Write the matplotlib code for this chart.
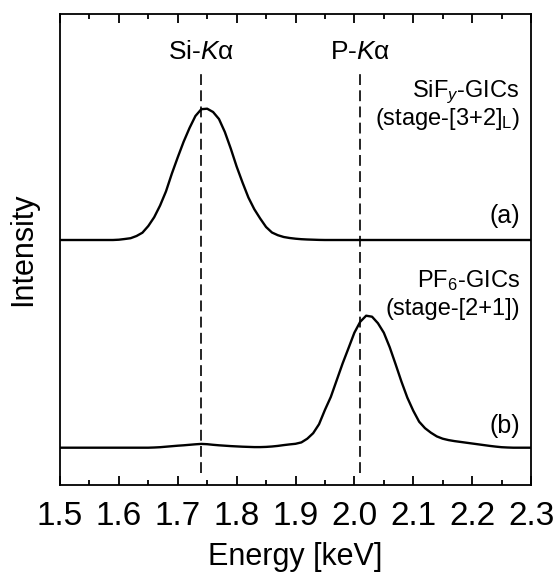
import numpy as np
import matplotlib
matplotlib.use("Agg")
import matplotlib.pyplot as plt
from matplotlib.ticker import MultipleLocator

plt.rcParams['font.family'] = ['Liberation Sans', 'DejaVu Sans']
plt.rcParams['mathtext.fontset'] = 'custom'
plt.rcParams['mathtext.rm'] = 'Liberation Sans'
plt.rcParams['mathtext.it'] = 'Liberation Sans:italic'

# Energy axis (keV)
energy = np.round(np.arange(1.50, 2.3001, 0.01), 2)

# (a) SiFy-GICs intensity (a.u., above baseline)
intensity_a = [
    0, 0, 0, 0, 0, 0, 0, 0, 0, 0,            # 1.50-1.59
    0.3, 1.0, 1.8, 4.0, 7.3, 14.0, 22.8, 34.5, 48.6, 66.4,   # 1.60-1.69
    82.7, 98.3, 112.0, 124.0, 130.8, 131.3, 128.0, 121.0, 108.0, 91.5,  # 1.70-1.79
    73.5, 57.5, 42.5, 30.8, 21.5, 13.0, 7.5, 4.8, 3.0, 2.0,  # 1.80-1.89
    1.3, 0.8, 0.5, 0.3, 0.1, 0, 0, 0, 0, 0,  # 1.90-1.99
    0, 0, 0, 0, 0, 0, 0, 0, 0, 0,            # 2.00-2.09
    0, 0, 0, 0, 0, 0, 0, 0, 0, 0,            # 2.10-2.19
    0, 0, 0, 0, 0, 0, 0, 0, 0, 0,            # 2.20-2.29
    0,                                        # 2.30
]

# (b) PF6-GICs intensity (a.u., above baseline)
intensity_b = [
    0, 0, 0, 0, 0, 0, 0, 0, 0, 0,            # 1.50-1.59
    0, 0, 0, 0, 0, 0, 0.2, 0.5, 1.0, 1.5,    # 1.60-1.69
    2.0, 2.4, 2.9, 3.4, 3.8, 3.5, 2.9, 2.4, 2.0, 1.6,  # 1.70-1.79
    1.3, 1.0, 0.8, 0.6, 0.6, 0.8, 1.2, 1.8, 2.6, 3.3,  # 1.80-1.89
    3.9, 5.3, 9.0, 14.5, 23.5, 37.8, 50.8, 67.5, 84.2, 99.5,  # 1.90-1.99
    115.0, 126.0, 132.0, 131.0, 124.5, 115.0, 100.5, 83.5, 66.0, 50.0,  # 2.00-2.09
    37.0, 26.0, 19.5, 15.0, 11.3, 9.0, 7.6, 6.6, 5.8, 5.0,  # 2.10-2.19
    4.2, 3.4, 2.6, 1.8, 1.1, 0.5, 0.2, 0, 0, 0,  # 2.20-2.29
    0,                                        # 2.30
]

line_energies = [1.74, 2.01]
line_labels = [r'Si-$\mathit{K}$α', r'P-$\mathit{K}$α']

offset_a = 244.5
offset_b = 36.8

fig = plt.figure(figsize=(5.54, 5.77), dpi=100)
ax = fig.add_axes([60/554, 1 - 484.5/577, 471/554, 470.5/577])

ax.plot(energy, np.array(intensity_a) + offset_a, color='black', lw=1.7,
        solid_joinstyle='round')
ax.plot(energy, np.array(intensity_b) + offset_b, color='black', lw=1.7,
        solid_joinstyle='round')

for e, lab in zip(line_energies, line_labels):
    ax.plot([e, e], [11.8, 412.5], color='black', lw=1.2, ls=(0, (6.5, 3.2)))
    ax.text(e, 425.5, lab, ha='center', va='baseline', fontsize=19)

ax.text(2.281, 484.5 - 96.7, r'SiF$_{\mathit{y}}$-GICs', ha='right', va='baseline', fontsize=17)
ax.text(2.281, 484.5 - 125, r'(stage-[3+2]$_{\mathrm{L}}$)', ha='right', va='baseline', fontsize=17)
ax.text(2.281, 484.5 - 223.3, '(a)', ha='right', va='baseline', fontsize=18)
ax.text(2.281, 484.5 - 287.3, r'PF$_6$-GICs', ha='right', va='baseline', fontsize=17)
ax.text(2.281, 484.5 - 315, '(stage-[2+1])', ha='right', va='baseline', fontsize=17)
ax.text(2.281, 484.5 - 433.3, '(b)', ha='right', va='baseline', fontsize=18)

ax.set_xlim(1.5, 2.3)
ax.set_ylim(0, 470.5)
ax.xaxis.set_minor_locator(MultipleLocator(0.05))
ax.set_xticks(np.round(np.arange(1.5, 2.31, 0.1), 1))
ax.set_xticklabels([f'{v:.1f}' for v in np.arange(1.5, 2.31, 0.1)])
ax.tick_params(axis='x', which='both', direction='in', top=True, bottom=True,
               labelsize=24, pad=12)
ax.tick_params(axis='x', which='major', length=6.5, width=1.3)
ax.tick_params(axis='x', which='minor', length=3.4, width=1.3)
ax.set_yticks([])
for s in ax.spines.values():
    s.set_linewidth(1.3)

ax.set_xlabel('Energy [keV]', fontsize=22, labelpad=7)
ax.set_ylabel('Intensity', fontsize=22, labelpad=16)

fig.savefig('out.png', dpi=100)
